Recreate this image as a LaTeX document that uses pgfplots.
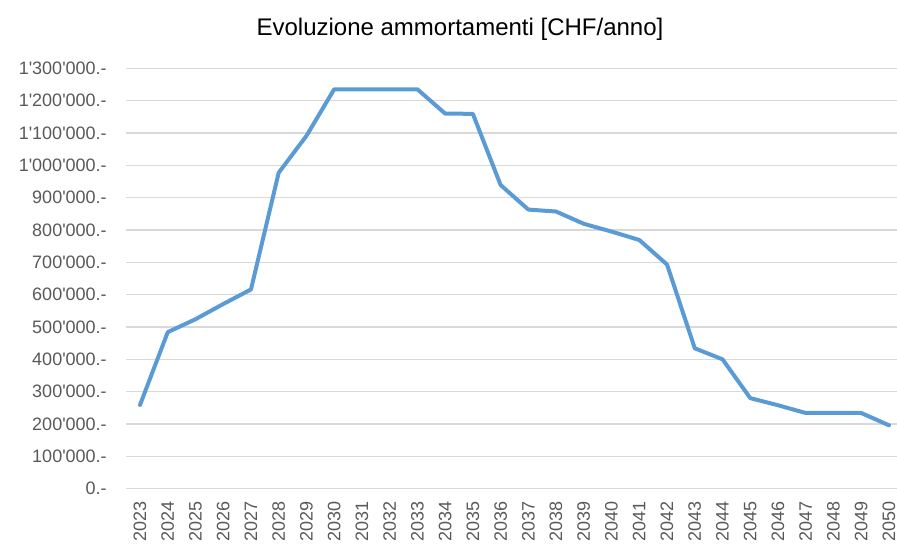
\documentclass[border=0pt]{standalone}
\usepackage{pgfplots}
\pgfplotsset{compat=1.18}
\usepackage{fontspec}
\newfontfamily\arialfont{Liberation Sans}
\definecolor{linecol}{RGB}{91,155,213}
\definecolor{gridcol}{RGB}{217,217,217}
\definecolor{tickcol}{RGB}{89,89,89}

\begin{document}
\begin{tikzpicture}[font=\arialfont]
% frame of the whole picture (897 x 547 px, 1px = 0.75pt)
\path[use as bounding box] (-94.5pt,-43.7pt) rectangle (578.25pt,366.5pt);
\begin{axis}[
  at={(0pt,0pt)}, anchor=south west,
  scale only axis,
  width=578.25pt, height=315.3pt,
  xmin=2022.495, xmax=2050.29,
  ymin=0, ymax=1300000,
  scaled y ticks=false,
  axis line style={draw=none},
  ymajorgrids, grid style={gridcol,line width=0.9pt},
  major tick length=0pt,
  xtick={2023,...,2050},
  ytick={0,100000,...,1300000},
  yticklabels={0.-,100'000.-,200'000.-,300'000.-,400'000.-,500'000.-,600'000.-,
    700'000.-,800'000.-,900'000.-,1'000'000.-,1'100'000.-,1'200'000.-,1'300'000.-},
  y tick label style={font=\arialfont\fontsize{13.5pt}{15pt}\selectfont,
    text=tickcol, anchor=east, inner sep=0pt, xshift=-14.25pt},
  x tick label style={font=\arialfont\fontsize{13.5pt}{15pt}\selectfont,
    text=tickcol, yshift=-9.5pt, rotate=90, anchor=east, inner sep=0pt,
    /pgf/number format/1000 sep={},
    /pgf/number format/assume math mode=true},
  clip=false,
]
\addplot[linecol, line width=3pt, line join=round, line cap=round] coordinates {
  (2023,259000) (2024,484000) (2025,524000) (2026,571000) (2027,616000)
  (2028,977000) (2029,1091000) (2030,1235000) (2031,1235000) (2032,1235000)
  (2033,1235000) (2034,1160000) (2035,1159000) (2036,939000) (2037,863000)
  (2038,857000) (2039,819000) (2040,795000) (2041,769000) (2042,693000)
  (2043,434000) (2044,400000) (2045,280000) (2046,258000) (2047,234000)
  (2048,234000) (2049,234000) (2050,196000)
};
\end{axis}
\node[font=\arialfont\fontsize{18pt}{21pt}\selectfont, text=black]
  at (250.5pt,344.8pt) {Evoluzione ammortamenti [CHF/anno]};
\end{tikzpicture}
\end{document}
